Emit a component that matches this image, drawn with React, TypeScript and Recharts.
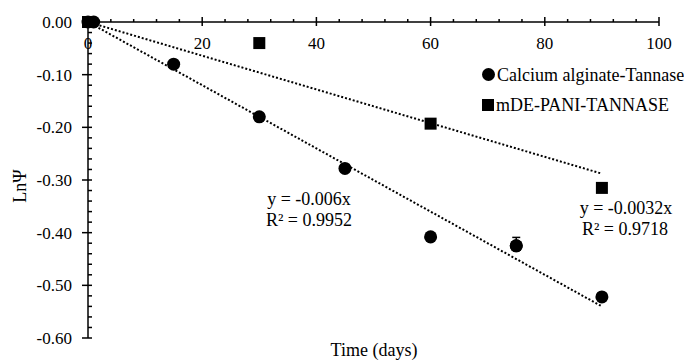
import React from 'react';
import { ComposedChart, Scatter, Line, XAxis, YAxis, ZAxis, ErrorBar } from 'recharts';

// x axis: majors every 20 days, minors every 4
const xMajorTicks = [0, 20, 40, 60, 80, 100];
const xAllTicks = [0, 4, 8, 12, 16, 20, 24, 28, 32, 36, 40, 44, 48, 52, 56, 60, 64, 68, 72, 76, 80, 84, 88, 92, 96, 100];
// y axis: majors every 0.10, minors every 0.02
const yMajorTicks = [0, -0.1, -0.2, -0.3, -0.4, -0.5, -0.6];
const yAllTicks = [
  0, -0.02, -0.04, -0.06, -0.08, -0.1, -0.12, -0.14, -0.16, -0.18, -0.2, -0.22, -0.24, -0.26, -0.28, -0.3,
  -0.32, -0.34, -0.36, -0.38, -0.4, -0.42, -0.44, -0.46, -0.48, -0.5, -0.52, -0.54, -0.56, -0.58, -0.6,
];

const alginateDays = [0, 1, 15, 30, 45, 60, 75, 90];
const alginateLnPsi = [0, 0, -0.08, -0.18, -0.278, -0.408, -0.425, -0.522];
// only the 75-day point carries a visible (upper) error bar
const alginateErrUp = [0, 0, 0, 0, 0, 0, 0.016, 0];

const paniDays = [0, 30, 60, 90];
const paniLnPsi = [0, -0.04, -0.193, -0.315];

// fitted trendlines shown in the annotations
const alginateSlope = -0.006;
const paniSlope = -0.0032;
const trendDays = [0, 90];

const alginateData = alginateDays.map((x, i) => ({ x, y: alginateLnPsi[i] }));
const alginateErrData = alginateDays
  .map((x, i) => ({ x, y: alginateLnPsi[i], err: [0, alginateErrUp[i]] }))
  .filter((d) => d.err[1] > 0);
const paniData = paniDays.map((x, i) => ({ x, y: paniLnPsi[i] }));
const alginateTrend = trendDays.map((x) => ({ x, y: alginateSlope * x }));
const paniTrend = trendDays.map((x) => ({ x, y: paniSlope * x }));

const FONT = '"Liberation Serif", "Times New Roman", serif';
const TICK_FS = 17;
const FS = 18;

function XTick(props: any) {
  const { x, y, payload } = props;
  const v = payload.value;
  const major = xMajorTicks.includes(v);
  return (
    <g>
      <line x1={x} x2={x} y1={major ? y - 5 : y - 3} y2={major ? y + 4 : y} stroke="#000" strokeWidth={1.5} />
      {major && (
        <text x={x} y={y + 27} textAnchor="middle" fontFamily={FONT} fontSize={TICK_FS} fill="#000">
          {v}
        </text>
      )}
    </g>
  );
}

function YTick(props: any) {
  const { x, y, payload } = props;
  const v = payload.value;
  const major = yMajorTicks.some((t) => Math.abs(t - v) < 1e-9);
  return (
    <g>
      <line x1={major ? x - 6 : x} x2={x + 4} y1={y} y2={y} stroke="#000" strokeWidth={1.5} />
      {major && (
        <text x={x - 16} y={y + 6} textAnchor="end" fontFamily={FONT} fontSize={TICK_FS} fill="#000">
          {v.toFixed(2)}
        </text>
      )}
    </g>
  );
}

const SquareMark = (p: any) => <rect x={p.cx - 6} y={p.cy - 6} width={12} height={12} fill="#000" />;

const textBase: React.CSSProperties = {
  position: 'absolute',
  fontFamily: FONT,
  fontSize: FS,
  lineHeight: 1,
  color: '#000',
  whiteSpace: 'nowrap',
};

const centered = (left: number, top: number): React.CSSProperties => ({
  ...textBase,
  left,
  top,
  transform: 'translate(-50%, -50%)',
});

export default function App() {
  return (
    <div style={{ position: 'absolute', left: 0, top: 0, width: 684, height: 360, background: '#fff' }}>
      <ComposedChart width={684} height={360} margin={{ top: 21, right: 25, bottom: 22, left: 87 }}>
        <XAxis
          dataKey="x"
          type="number"
          orientation="top"
          domain={[0, 100]}
          ticks={xAllTicks}
          interval={0}
          height={1}
          tickSize={0}
          tickMargin={0}
          tickLine={false}
          tick={<XTick />}
          axisLine={{ stroke: '#000', strokeWidth: 1.5 }}
        />
        <YAxis
          dataKey="y"
          type="number"
          domain={[-0.6, 0]}
          ticks={yAllTicks}
          interval={0}
          width={1}
          tickSize={0}
          tickMargin={0}
          tickLine={false}
          tick={<YTick />}
          axisLine={{ stroke: '#000', strokeWidth: 1.5 }}
        />
        <ZAxis range={[133, 133]} />
        <Line
          data={alginateTrend}
          dataKey="y"
          type="linear"
          stroke="#000"
          strokeWidth={2}
          strokeDasharray="2 2"
          dot={false}
          activeDot={false}
          legendType="none"
          isAnimationActive={false}
        />
        <Line
          data={paniTrend}
          dataKey="y"
          type="linear"
          stroke="#000"
          strokeWidth={2}
          strokeDasharray="2 2"
          dot={false}
          activeDot={false}
          legendType="none"
          isAnimationActive={false}
        />
        <Scatter name="Calcium alginate-Tannase" data={alginateData} shape="circle" fill="#000" isAnimationActive={false} />
        <Scatter data={alginateErrData} shape="circle" fill="#000" legendType="none" isAnimationActive={false}>
          <ErrorBar dataKey="err" direction="y" width={4} stroke="#000" strokeWidth={1.5} />
        </Scatter>
        <Scatter name="mDE-PANI-TANNASE" data={paniData} shape={SquareMark} isAnimationActive={false} />
      </ComposedChart>

      <div style={{ ...centered(20, 186), transform: 'translate(-50%, -50%) rotate(-90deg)' }}>LnΨ</div>
      <div style={centered(374, 350)}>Time (days)</div>

      <div style={centered(309, 199)}>y = -0.006x</div>
      <div style={centered(309, 220)}>R² = 0.9952</div>
      <div style={centered(626, 208)}>y = -0.0032x</div>
      <div style={centered(625, 229)}>R² = 0.9718</div>

      <div style={{ position: 'absolute', left: 482, top: 65 }}>
        <div style={{ display: 'flex', alignItems: 'center', height: 19 }}>
          <span style={{ width: 13, height: 13, borderRadius: '50%', background: '#000', marginRight: 2, flex: 'none' }} />
          <span style={{ fontFamily: FONT, fontSize: FS, lineHeight: 1, whiteSpace: 'nowrap' }}>Calcium alginate-Tannase</span>
        </div>
        <div style={{ display: 'flex', alignItems: 'center', height: 19, marginTop: 11 }}>
          <span style={{ width: 12, height: 12, background: '#000', marginRight: 2, flex: 'none' }} />
          <span style={{ fontFamily: FONT, fontSize: FS, lineHeight: 1, whiteSpace: 'nowrap' }}>mDE-PANI-TANNASE</span>
        </div>
      </div>
    </div>
  );
}
